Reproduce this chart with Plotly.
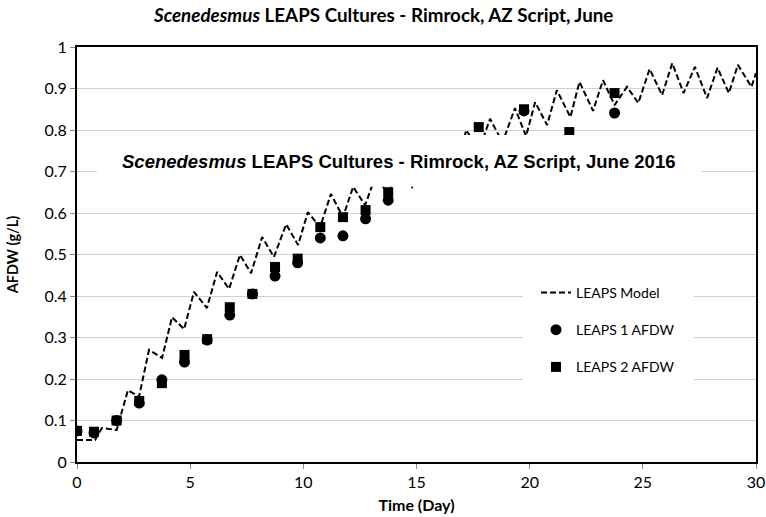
import plotly.graph_objects as go

# ---- data ----
model_day = [0, 0.8, 1.1, 1.75, 2.25, 2.74, 3.18, 3.76, 4.2, 4.73, 5.17, 5.74, 6.19, 6.72,
             7.2, 7.69, 8.18, 8.7, 9.24, 9.77, 10.2, 10.74, 11.22, 11.75, 12.2, 12.73,
             13.2, 13.75, 14.2, 14.8, 15.2, 15.8, 16.2, 16.8, 17.2, 17.75, 18.25, 18.8,
             19.35, 19.84, 20.24, 20.77, 21.2, 21.8, 22.2, 22.8, 23.24, 23.75, 24.3, 24.8,
             25.3, 25.85, 26.3, 26.8, 27.3, 27.84, 28.3, 28.8, 29.2, 29.8, 30]
model_afdw = [0.053, 0.053, 0.082, 0.077, 0.173, 0.157, 0.27, 0.251, 0.349, 0.32, 0.41, 0.371,
              0.458, 0.417, 0.499, 0.455, 0.542, 0.494, 0.573, 0.523, 0.602, 0.566, 0.646,
              0.59, 0.663, 0.619, 0.69, 0.645, 0.72, 0.66, 0.745, 0.69, 0.775, 0.72, 0.80,
              0.75, 0.827, 0.77, 0.853, 0.785, 0.867, 0.812, 0.896, 0.831, 0.916, 0.846,
              0.92, 0.86, 0.904, 0.865, 0.947, 0.884, 0.961, 0.889, 0.952, 0.877, 0.95,
              0.889, 0.957, 0.904, 0.937]

sample_day = [0, 0.75, 1.75, 2.75, 3.75, 4.75, 5.75, 6.75, 7.75, 8.75, 9.75, 10.75, 11.75,
              12.75, 13.75, 17.75, 19.75, 21.75, 23.75]
leaps1_afdw = [0.075, 0.07, 0.1, 0.142, 0.198, 0.241, 0.294, 0.354, 0.405, 0.448, 0.48, 0.54,
               0.545, 0.586, 0.631, None, 0.846, None, 0.841]
leaps2_afdw = [0.075, 0.073, 0.1, 0.147, 0.19, 0.258, 0.296, 0.373, 0.405, 0.47, 0.49, 0.566,
               0.59, 0.607, 0.65, 0.807, 0.85, 0.795, 0.889]

y_ticks = [0, 0.1, 0.2, 0.3, 0.4, 0.5, 0.6, 0.7, 0.8, 0.9, 1]
y_tick_labels = ["0", "0.1", "0.2", "0.3", "0.4", "0.5", "0.6", "0.7", "0.8", "0.9", "1"]
x_ticks = [0, 5, 10, 15, 20, 25, 30]

title_top = "<i>Scenedesmus</i> LEAPS Cultures - Rimrock, AZ Script, June"
title_mid = "<i>Scenedesmus</i> LEAPS Cultures - Rimrock, AZ Script, June 2016"

CAL = "Lato, 'Open Sans', sans-serif"
ARI = "'Liberation Sans', Arial, sans-serif"

fig = go.Figure()
fig.add_trace(go.Scatter(x=model_day, y=model_afdw, mode="lines", name="LEAPS Model",
                         legendgroup="a",
                         line=dict(color="black", width=2, dash="6px,3px")))
fig.add_trace(go.Scatter(x=sample_day, y=leaps1_afdw, mode="markers", name="LEAPS 1 AFDW",
                         legendgroup="b",
                         marker=dict(symbol="circle", size=11, color="black")))
fig.add_trace(go.Scatter(x=sample_day, y=leaps2_afdw, mode="markers", name="LEAPS 2 AFDW",
                         legendgroup="c",
                         marker=dict(symbol="square", size=10, color="black")))

# white overlay boxes (title box and legend box)
fig.add_shape(type="rect", xref="x", yref="y", x0=0.88, x1=27.6, y0=0.663, y1=0.788,
              fillcolor="white", line=dict(width=0), layer="above")
fig.add_shape(type="rect", xref="x", yref="y", x0=19.7, x1=27.26, y0=0.16, y1=0.46,
              fillcolor="white", line=dict(width=0), layer="above")

fig.add_annotation(text=title_top, xref="paper", yref="paper", x=0.451, y=1.0795,
                   xanchor="center", yanchor="middle", showarrow=False,
                   font=dict(family=CAL, size=18.8, color="black", weight="bold"))
fig.add_annotation(text=title_mid, xref="paper", yref="paper", x=0.474, y=0.725,
                   xanchor="center", yanchor="middle", showarrow=False,
                   font=dict(family=ARI, size=18.5, color="black", weight="bold"))

fig.update_layout(
    width=766, height=517,
    margin=dict(l=77, r=10, t=47, b=55),
    plot_bgcolor="white", paper_bgcolor="white",
    showlegend=True,
    legend=dict(x=0.676, y=0.446, xanchor="left", yanchor="top",
                bgcolor="rgba(0,0,0,0)", borderwidth=0,
                traceorder="grouped", tracegroupgap=16,
                font=dict(family=CAL, size=14, color="black")),
    xaxis=dict(range=[0, 30], tickvals=x_ticks, showgrid=False, zeroline=False,
               automargin=False,
               showline=True, linecolor="black", linewidth=2, mirror=True,
               ticks="outside", ticklen=5, tickcolor="#888888",
               tickfont=dict(family=CAL, size=16, color="black"),
               title=dict(text="<b>Time (Day)</b>", standoff=10,
                          font=dict(family=CAL, size=16, color="black"))),
    yaxis=dict(range=[0, 1], tickvals=y_ticks, ticktext=y_tick_labels,
               automargin=False,
               showgrid=True, gridcolor="#d0d0d0", gridwidth=1, zeroline=False,
               showline=True, linecolor="black", linewidth=2, mirror=True,
               ticks="outside", ticklen=5, tickcolor="#888888",
               tickfont=dict(family=CAL, size=16, color="black"),
               title=dict(text="<b>AFDW (g/L)</b>", standoff=22,
                          font=dict(family=CAL, size=14.5, color="black"))),
)

fig.write_html("out.html", config={"displayModeBar": False},
               post_script="document.body.style.margin='0';document.body.style.overflow='hidden';")
